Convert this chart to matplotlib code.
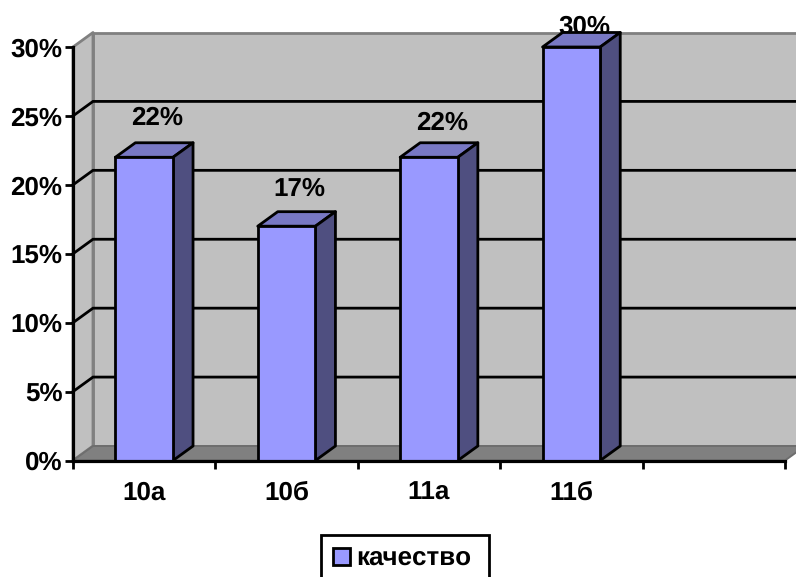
import matplotlib
matplotlib.use("Agg")
import matplotlib.pyplot as plt
from matplotlib.patches import Polygon

plt.rcParams['font.family'] = ['Liberation Sans', 'DejaVu Sans']
plt.rcParams['text.hinting'] = 'no_hinting'
plt.rcParams['text.hinting_factor'] = 1

categories = ['10а', '10б', '11а', '11б', '']
values = [22, 17, 22, 30]
labels = ['22%', '17%', '22%', '30%']
y_ticks = [0, 5, 10, 15, 20, 25, 30]
series_name = 'качество'
label_offsets_px = [39.5, 37.5, 34.5, 20.5]

W, H = 796, 577
LEFT, RIGHT, TOP, BOTTOM = 73, 785, 47, 460.5
DX = 20 / ((RIGHT - LEFT) / 5)
DY = 14.5 / ((BOTTOM - TOP) / 30)
BAR_W = 0.405
FS = 19
BLACK = '#000000'
LW = 2.0

fig = plt.figure(figsize=(W / 100, H / 100), dpi=100, facecolor='white')
ax = fig.add_axes([LEFT / W, 1 - BOTTOM / H, (RIGHT - LEFT) / W, (BOTTOM - TOP) / H],
                  facecolor='none')
ax.set_xlim(0, 5)
ax.set_ylim(0, 30)


def poly(points, fc, ec='none', lw=0, z=1):
    ax.add_patch(Polygon(points, closed=True, facecolor=fc, edgecolor=ec, linewidth=lw,
                         zorder=z, clip_on=False, joinstyle='round'))


# back wall, side wall, floor
poly([(DX, DY), (5 + DX, DY), (5 + DX, 30 + DY), (DX, 30 + DY)], '#c0c0c0', '#808080', 2.0, 0.5)
poly([(0, 0), (DX, DY), (DX, 30 + DY), (0, 30)], '#c0c0c0', '#808080', 2.0, 0.6)
poly([(0, 0), (DX, DY), (5 + DX, DY), (5, 0)], '#808080', '#6e6e6e', 1.4, 0.7)

# grid lines
for v in y_ticks[1:-1]:
    ax.plot([0, DX, 5 + DX], [v, v + DY, v + DY], color=BLACK, lw=LW, zorder=1,
            clip_on=False, solid_joinstyle='miter')

# bars
for i, v in enumerate(values):
    c = i + 0.5
    l, r = c - BAR_W / 2, c + BAR_W / 2
    poly([(l, v), (l + DX, v + DY), (r + DX, v + DY), (r, v)], '#7878c4', BLACK, LW, 3)
    poly([(r, 0), (r + DX, DY), (r + DX, v + DY), (r, v)], '#4f4f80', BLACK, LW, 3)
bars = ax.bar([i + 0.5 for i in range(len(values))], values, width=BAR_W, color='#9999ff',
              edgecolor=BLACK, linewidth=LW, zorder=4, clip_on=False, label=series_name)

# value labels
for i, (v, t, off) in enumerate(zip(values, labels, label_offsets_px)):
    ax.annotate(t, xy=(i + 0.5 + DX * 0.66, v), xytext=(0, off * 0.72), textcoords='offset points',
                ha='center', va='center', fontsize=FS, fontweight='bold', color=BLACK,
                zorder=2.5, annotation_clip=False)

# axes
for s in ('top', 'right'):
    ax.spines[s].set_visible(False)
for s in ('left', 'bottom'):
    ax.spines[s].set_linewidth(2.3)
    ax.spines[s].set_color(BLACK)
    ax.spines[s].set_zorder(5)
ax.set_yticks(y_ticks)
ax.set_yticklabels([f'{v}%' for v in y_ticks], fontsize=FS, fontweight='bold')
ax.tick_params(axis='y', length=6, width=2.0, pad=1.5, color=BLACK)
ax.set_xticks(range(6))
ax.set_xticklabels([''] * 6)
ax.tick_params(axis='x', which='major', length=6, width=2.0, color=BLACK)
ax.set_xticks([i + 0.5 for i in range(5)], minor=True)
ax.set_xticklabels(categories, minor=True, fontsize=FS - 0.5, fontweight='bold', va='baseline')
ax.tick_params(axis='x', which='minor', length=0, pad=28.5)

leg = ax.legend(handles=[bars], loc='lower left',
                bbox_to_anchor=(321 / W, -0.01, (488.5 - 321) / W, 1 - 535 / H + 0.01),
                bbox_transform=fig.transFigure, borderaxespad=0, fancybox=False, framealpha=1,
                mode='expand',
                edgecolor=BLACK, prop={'family': 'Liberation Sans', 'weight': 'bold', 'size': FS},
                handlelength=0.65, handleheight=0.65, handletextpad=0.25, borderpad=0.45)
leg.get_frame().set_linewidth(2.0)
leg.set_zorder(10)
leg.set_loc('upper left')

fig.savefig('out.png', dpi=100)
